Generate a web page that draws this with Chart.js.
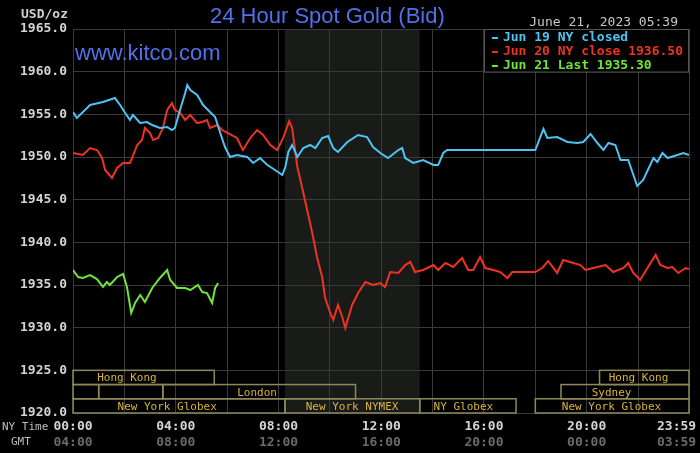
<!DOCTYPE html>
<html>
<head>
<meta charset="utf-8">
<script src="https://cdn.jsdelivr.net/npm/chart.js@4.4.0/dist/chart.umd.min.js"></script>
<style>
  html, body { margin: 0; padding: 0; background: #000; }
  #wrap { width: 700px; height: 453px; }
</style>
</head>
<body>
<div id="wrap"><canvas id="goldChart" width="700" height="453"></canvas></div>
<script>
// series (minutes after NY midnight -> bid price)
const seriesLabels = ['Jun 19 NY closed', 'Jun 20 NY close 1936.50', 'Jun 21 Last 1935.30'];
const seriesColors = ['#4fc4f2', '#ee3322', '#6ee43c'];

const jun19Min = [0, 9, 40, 70, 98, 110, 122, 133, 140, 157, 173, 185, 203, 220, 231, 238, 250, 262, 267, 274,
  290, 304, 320, 332, 344, 355, 367, 383, 407, 421, 437, 454, 472, 489, 496, 503, 512, 524, 538, 554,
  566, 582, 596, 608, 619, 641, 666, 687, 701, 718, 736, 760, 769, 776, 795, 818, 842, 853, 865, 874,
  1080, 1099, 1108, 1131, 1155, 1178, 1192, 1209, 1225, 1239, 1251, 1267, 1279, 1297, 1318, 1332, 1356, 1365, 1377, 1389,
  1412, 1426, 1439];
const jun19Val = [1955.27, 1954.57, 1956.09, 1956.45, 1956.91, 1956.09, 1955.16, 1954.34, 1954.92, 1953.98,
  1954.10, 1953.75, 1953.40, 1953.52, 1953.16, 1953.40, 1955.51, 1957.50, 1958.44, 1957.85,
  1957.27, 1956.09, 1955.27, 1954.69, 1952.81, 1951.17, 1950.00, 1950.23, 1950.00, 1949.30,
  1949.88, 1949.06, 1948.48, 1947.89, 1948.83, 1950.59, 1951.41, 1950.00, 1951.05, 1951.41,
  1951.05, 1952.23, 1952.46, 1951.05, 1950.59, 1951.76, 1952.58, 1952.34, 1951.17, 1950.47,
  1949.88, 1950.82, 1951.05, 1949.88, 1949.30, 1949.65, 1949.06, 1949.06, 1950.47, 1950.82,
  1950.82, 1953.28, 1952.23, 1952.34, 1951.76, 1951.64, 1951.76, 1952.70, 1951.64, 1950.82,
  1951.64, 1951.41, 1949.65, 1949.65, 1946.60, 1947.30, 1949.88, 1949.41, 1950.47, 1949.88,
  1950.23, 1950.47, 1950.23];

const jun20Min = [0, 23, 40, 56, 68, 75, 91, 103, 117, 133, 138, 150, 161, 168, 180, 187, 199, 210, 220, 231,
  238, 250, 262, 274, 290, 302, 313, 320, 337, 348, 362, 383, 397, 414, 430, 444, 461, 477, 491, 505,
  512, 524, 535, 547, 559, 570, 582, 589, 601, 608, 619, 629, 636, 652, 666, 683, 701, 718, 729, 741,
  760, 776, 788, 799, 818, 842, 853, 870, 888, 909, 923, 935, 951, 963, 982, 998, 1015, 1026, 1080, 1096,
  1110, 1131, 1145, 1169, 1185, 1197, 1225, 1244, 1262, 1286, 1297, 1309, 1325, 1342, 1361, 1372, 1389, 1400, 1414, 1431,
  1439];
const jun20Val = [1950.47, 1950.23, 1951.05, 1950.82, 1949.88, 1948.48, 1947.54, 1948.71, 1949.30, 1949.30,
  1949.88, 1951.41, 1951.99, 1953.40, 1952.81, 1951.99, 1952.23, 1953.40, 1955.51, 1956.33,
  1955.51, 1955.16, 1954.34, 1954.92, 1953.98, 1954.10, 1954.34, 1953.40, 1953.75, 1953.16,
  1952.81, 1952.23, 1950.82, 1952.23, 1953.16, 1952.58, 1951.41, 1950.82, 1952.23, 1954.20,
  1953.40, 1948.83, 1946.48, 1943.79, 1941.09, 1938.28, 1935.94, 1933.48, 1931.72, 1930.90,
  1932.66, 1931.25, 1929.96, 1932.66, 1934.06, 1935.35, 1935.00, 1935.23, 1934.77, 1936.52,
  1936.41, 1937.34, 1937.70, 1936.52, 1936.76, 1937.34, 1936.76, 1937.58, 1937.11, 1938.16,
  1936.76, 1936.76, 1938.28, 1936.99, 1936.76, 1936.52, 1935.82, 1936.52, 1936.52, 1936.99,
  1937.81, 1936.41, 1937.93, 1937.58, 1937.34, 1936.76, 1937.11, 1937.34, 1936.52, 1936.99,
  1937.58, 1936.41, 1935.59, 1936.99, 1938.52, 1937.34, 1936.99, 1937.11, 1936.41, 1936.99,
  1936.88];

const jun21Min = [0, 12, 23, 40, 56, 70, 79, 86, 103, 117, 126, 136, 145, 157, 168, 185, 203, 220, 227, 243,
  262, 274, 292, 302, 313, 325, 332, 339];
const jun21Val = [1936.76, 1935.94, 1935.82, 1936.17, 1935.70, 1934.77, 1935.35, 1935.00, 1935.94, 1936.29,
  1934.77, 1931.72, 1932.89, 1933.83, 1933.01, 1934.65, 1935.82, 1936.76, 1935.59, 1934.65,
  1934.65, 1934.41, 1935.00, 1934.18, 1934.06, 1932.89, 1934.65, 1935.23];

// x axis: grid every 2h, labels every 4h (NY time and GMT)
const gridMin = [0, 120, 240, 360, 480, 600, 720, 840, 960, 1080, 1200, 1320, 1439];
const nyLabelMin = [0, 240, 480, 720, 960, 1200, 1410];
const nyLabels = ['00:00', '04:00', '08:00', '12:00', '16:00', '20:00', '23:59'];
const gmtLabels = ['04:00', '08:00', '12:00', '16:00', '20:00', '00:00', '03:59'];

// trading sessions (row 0 = top)
const sessionNames = ['Hong Kong', '', '', 'London', 'New York Globex', 'New York NYMEX', 'NY Globex', 'New York Globex', 'Sydney', 'Hong Kong'];
const sessionRow = [0, 1, 1, 1, 2, 2, 2, 2, 1, 0];
const sessionStart = [0, 0, 60, 210, 0, 495, 810, 1080, 1140, 1230];
const sessionEnd = [330, 60, 210, 660, 495, 810, 1035, 1439, 1439, 1439];
const sessionTextMin = [126, null, null, 430, 220, 652, 912, 1258, 1258, 1321];
const nymexOpen = 495;
const nymexClose = 810;

const gridColor = '#3a3a3a';
const mono = 'DejaVu Sans Mono';
const xTickMin = [...new Set(gridMin.concat(nyLabelMin))].sort((a, b) => a - b);

const toPoints = (mins, vals) => mins.map((m, i) => ({ x: m, y: vals[i] }));

const decorations = {
  id: 'decorations',
  beforeDraw(chart) {
    const { ctx, chartArea: a, scales: { x } } = chart;
    ctx.save();
    ctx.fillStyle = '#000';
    ctx.fillRect(0, 0, chart.width, chart.height);
    const x0 = x.getPixelForValue(nymexOpen);
    const x1 = x.getPixelForValue(nymexClose);
    ctx.fillStyle = '#191b19';
    ctx.fillRect(x0, a.top, x1 - x0, a.bottom - a.top);
    ctx.restore();
  },
  afterDraw(chart) {
    const { ctx, chartArea: a, scales: { x, y } } = chart;
    ctx.save();

    // session boxes
    const rowH = 5 / 3;
    ctx.lineWidth = 1.5;
    ctx.strokeStyle = '#8c8a5c';
    ctx.font = '11px "' + mono + '"';
    ctx.textAlign = 'center';
    ctx.textBaseline = 'middle';
    sessionNames.forEach((name, i) => {
      const top = y.getPixelForValue(1925 - sessionRow[i] * rowH);
      const bot = y.getPixelForValue(1925 - (sessionRow[i] + 1) * rowH);
      const l = x.getPixelForValue(sessionStart[i]);
      const r = x.getPixelForValue(sessionEnd[i]);
      ctx.strokeRect(l, top, r - l, bot - top);
      if (name) {
        ctx.fillStyle = '#d8b43a';
        ctx.fillText(name, x.getPixelForValue(sessionTextMin[i]), (top + bot) / 2 + 1);
      }
    });

    // legend box
    const lx = x.getPixelForValue(960);
    const lb = y.getPixelForValue(1960);
    ctx.fillStyle = '#000';
    ctx.fillRect(lx, a.top, a.right - lx, lb - a.top);
    ctx.strokeStyle = '#555';
    ctx.lineWidth = 1;
    ctx.strokeRect(lx + 0.5, a.top + 0.5, a.right - lx - 1, lb - a.top);
    ctx.font = 'bold 13px "' + mono + '"';
    ctx.textAlign = 'left';
    ctx.textBaseline = 'alphabetic';
    seriesLabels.forEach((lab, i) => {
      ctx.fillStyle = seriesColors[i];
      ctx.fillRect(lx + 8, a.top + 8 + i * 14, 6, 2);
      ctx.fillText(lab, lx + 19, a.top + 12 + i * 14);
    });

    // title, site, date, units
    ctx.fillStyle = '#5270ea';
    ctx.font = '22px "Liberation Sans", Arial, sans-serif';
    ctx.fillText('24 Hour Spot Gold (Bid)', 210, 23);
    ctx.fillText('www.kitco.com', 75, 60);

    ctx.fillStyle = '#c8c8c8';
    ctx.font = '13px "' + mono + '"';
    ctx.textAlign = 'right';
    ctx.fillText('June 21, 2023 05:39', 678, 26);

    ctx.textAlign = 'left';
    ctx.font = 'bold 13px "' + mono + '"';
    ctx.fillStyle = '#cfcfcf';
    ctx.fillText('USD/oz', 21, 18);

    ctx.font = '11px "' + mono + '"';
    ctx.fillStyle = '#bdbdbd';
    ctx.fillText('NY Time', 2, 430);
    ctx.fillText('GMT', 11, 445);
    ctx.restore();
  }
};

const tickFont = { family: mono, size: 13, weight: 'bold' };

new Chart(document.getElementById('goldChart'), {
  type: 'line',
  data: {
    datasets: [
      { label: seriesLabels[0], data: toPoints(jun19Min, jun19Val), borderColor: seriesColors[0] },
      { label: seriesLabels[1], data: toPoints(jun20Min, jun20Val), borderColor: seriesColors[1] },
      { label: seriesLabels[2], data: toPoints(jun21Min, jun21Val), borderColor: seriesColors[2] },
    ],
  },
  options: {
    responsive: false,
    animation: false,
    layout: { padding: { top: 29, right: 11, left: 0, bottom: 0 } },
    elements: {
      point: { radius: 0 },
      line: { borderWidth: 2, tension: 0, fill: false },
    },
    plugins: { legend: { display: false }, tooltip: { enabled: false } },
    scales: {
      x: {
        type: 'linear',
        position: 'bottom',
        weight: 0,
        min: 0,
        max: 1439,
        afterBuildTicks: s => { s.ticks = xTickMin.map(v => ({ value: v })); },
        afterFit: s => { s.height = 22; s.paddingLeft = 0; s.paddingRight = 0; },
        grid: {
          color: c => (c.tick && gridMin.indexOf(c.tick.value) < 0 ? 'rgba(0,0,0,0)' : gridColor),
          drawTicks: false,
        },
        border: { color: gridColor },
        ticks: {
          padding: 6,
          color: '#d4d4d4',
          font: tickFont,
          maxRotation: 0,
          autoSkip: false,
          callback: v => { const i = nyLabelMin.indexOf(v); return i < 0 ? '' : nyLabels[i]; },
        },
      },
      x2: {
        type: 'linear',
        position: 'bottom',
        weight: 1,
        min: 0,
        max: 1439,
        afterBuildTicks: s => { s.ticks = xTickMin.map(v => ({ value: v })); },
        afterFit: s => { s.height = 18; s.paddingLeft = 0; s.paddingRight = 0; },
        grid: { display: false, drawTicks: false },
        border: { display: false },
        ticks: {
          padding: 0,
          color: '#6a6a6a',
          font: tickFont,
          maxRotation: 0,
          autoSkip: false,
          callback: v => { const i = nyLabelMin.indexOf(v); return i < 0 ? '' : gmtLabels[i]; },
        },
      },
      y: {
        min: 1920,
        max: 1965,
        afterFit: s => { s.width = 73; },
        grid: { color: gridColor, drawTicks: false },
        border: { color: gridColor },
        ticks: {
          stepSize: 5,
          padding: 6,
          color: '#d4d4d4',
          font: tickFont,
          callback: v => v.toFixed(1),
        },
      },
    },
  },
  plugins: [decorations],
});
</script>
</body>
</html>
